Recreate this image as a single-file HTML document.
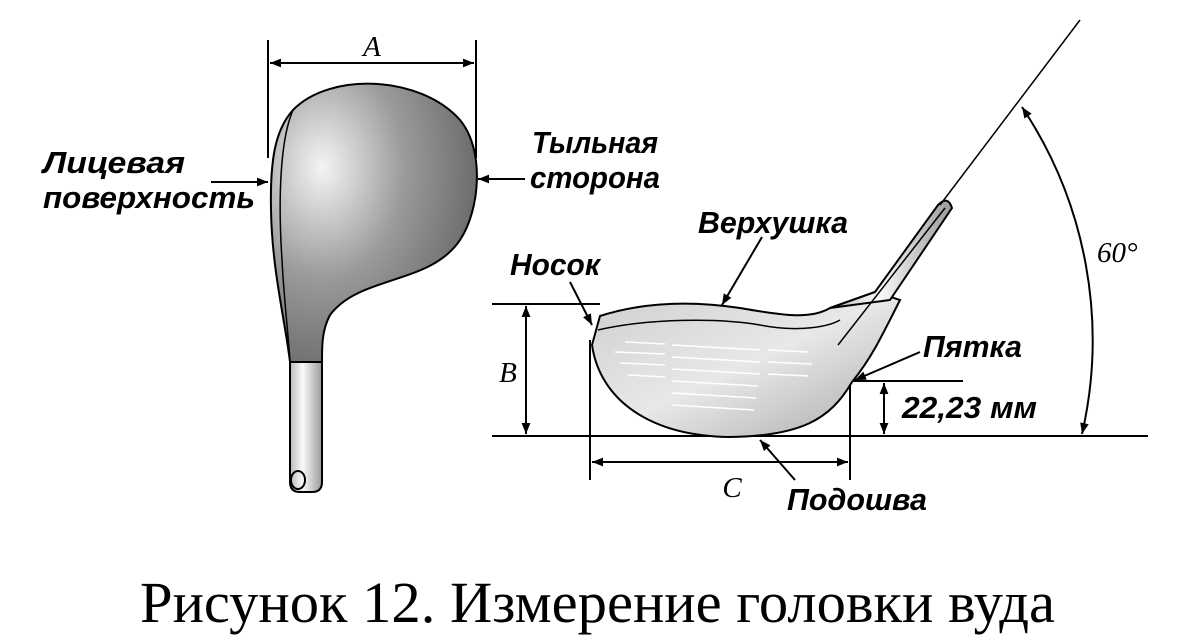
<!DOCTYPE html>
<html><head><meta charset="utf-8"><style>
html,body{margin:0;padding:0;background:#fff}
svg{display:block}
.l{font-family:"Liberation Sans",sans-serif;font-style:italic;font-weight:bold;font-size:31px;fill:#000}
.s{font-family:"Liberation Serif",serif;font-style:italic;font-size:29px}
</style></head><body>
<svg width="1194" height="641" viewBox="0 0 1194 641" xmlns="http://www.w3.org/2000/svg">
<defs>
<marker id="a" viewBox="0 0 10 10" refX="10" refY="5" markerWidth="11" markerHeight="11" orient="auto-start-reverse" markerUnits="userSpaceOnUse"><path d="M0,1 L10,5 L0,9z" fill="#000"/></marker>
<radialGradient id="g1" cx="0.25" cy="0.3" r="0.8"><stop offset="0" stop-color="#f4f4f4"/><stop offset="0.5" stop-color="#9a9a9a"/><stop offset="1" stop-color="#666"/></radialGradient>
<linearGradient id="g2" x1="0" x2="1"><stop offset="0" stop-color="#bbb"/><stop offset="0.4" stop-color="#fafafa"/><stop offset="1" stop-color="#999"/></linearGradient>
<linearGradient id="g3" x1="0" y1="0" x2="1" y2="1"><stop offset="0" stop-color="#cfcfcf"/><stop offset="0.5" stop-color="#e8e8e8"/><stop offset="1" stop-color="#a8a8a8"/></linearGradient>
</defs>
<g stroke="#000" stroke-width="2" fill="none">
<line x1="268" y1="40" x2="268" y2="158"/><line x1="476" y1="40" x2="476" y2="158"/>
<line x1="270" y1="63" x2="474" y2="63" marker-start="url(#a)" marker-end="url(#a)"/>
<path d="M293,110 C330,72 420,75 460,120 C485,150 480,210 460,240 C430,285 360,275 330,315 C322,330 322,345 322,362 L290,362 C285,320 272,270 271,210 C270,160 275,130 293,110Z" fill="url(#g1)"/>
<path d="M293,110 C280,140 278,200 282,260 C284,300 288,330 290,362" stroke-width="1.5"/>
<path d="M290,362 L290,482 Q290,492 300,492 L312,492 Q322,492 322,482 L322,362Z" fill="url(#g2)"/>
<ellipse cx="298" cy="480" rx="7" ry="9"/>
<line x1="211" y1="182" x2="268" y2="182" marker-end="url(#a)"/>
<line x1="525" y1="179" x2="478" y2="179" marker-end="url(#a)"/>
<line x1="492" y1="436" x2="1148" y2="436"/>
<line x1="492" y1="304" x2="600" y2="304"/>
<line x1="526" y1="306" x2="526" y2="434" marker-start="url(#a)" marker-end="url(#a)"/>
<line x1="590" y1="340" x2="590" y2="480"/><line x1="850" y1="382" x2="850" y2="480"/>
<line x1="592" y1="462" x2="848" y2="462" marker-start="url(#a)" marker-end="url(#a)"/>
<line x1="852" y1="381" x2="963" y2="381"/>
<line x1="884" y1="383" x2="884" y2="434" marker-start="url(#a)" marker-end="url(#a)"/>
<path d="M600,316 C650,300 700,302 740,308 C780,315 810,320 830,308 L875,292 L900,300 C880,340 870,360 852,382 C830,420 800,436 730,437 C650,436 600,400 592,345Z" fill="url(#g3)"/>
<path d="M598,330 C650,318 720,318 760,325 C800,333 830,326 840,320" stroke-width="1.5"/>
<path d="M830,308 L875,292 L938,205 Q948,195 952,208 L890,300Z" fill="url(#g2)"/>
<path d="M940,205 L1080,20" stroke-width="1.5"/>
<line x1="838" y1="345" x2="945" y2="208" stroke-width="1.5"/>
<path d="M1022,107 A420,420 0 0 1 1082,434" marker-start="url(#a)" marker-end="url(#a)"/>
<line x1="570" y1="282" x2="592" y2="325" marker-end="url(#a)"/>
<line x1="762" y1="237" x2="722" y2="305" marker-end="url(#a)"/>
<line x1="920" y1="352" x2="855" y2="380" marker-end="url(#a)"/>
<line x1="795" y1="480" x2="760" y2="440" marker-end="url(#a)"/>
</g>
<g stroke="#fff" stroke-width="1.5">
<line x1="625" y1="342" x2="665" y2="344"/><line x1="615" y1="352" x2="665" y2="354"/><line x1="620" y1="363" x2="665" y2="365"/><line x1="628" y1="375" x2="665" y2="377"/>
<line x1="672" y1="345" x2="760" y2="350"/><line x1="672" y1="357" x2="760" y2="362"/><line x1="672" y1="369" x2="760" y2="374"/><line x1="672" y1="381" x2="758" y2="386"/><line x1="672" y1="393" x2="756" y2="398"/><line x1="672" y1="405" x2="754" y2="410"/>
<line x1="768" y1="350" x2="808" y2="352"/><line x1="768" y1="362" x2="812" y2="364"/><line x1="768" y1="374" x2="808" y2="376"/>
</g>
<text class="s" x="372" y="56" text-anchor="middle">A</text>
<text class="s" x="508" y="382" text-anchor="middle">B</text>
<text class="s" x="732" y="497" text-anchor="middle">C</text>
<text class="s" x="1097" y="262">60°</text>
<text class="l" x="43" y="173" textLength="142" lengthAdjust="spacingAndGlyphs">Лицевая</text>
<text class="l" x="43" y="208" textLength="212" lengthAdjust="spacingAndGlyphs">поверхность</text>
<text class="l" x="532" y="153" textLength="126" lengthAdjust="spacingAndGlyphs">Тыльная</text>
<text class="l" x="530" y="188" textLength="130" lengthAdjust="spacingAndGlyphs">сторона</text>
<text class="l" x="510" y="275" textLength="90" lengthAdjust="spacingAndGlyphs">Носок</text>
<text class="l" x="698" y="233" textLength="150" lengthAdjust="spacingAndGlyphs">Верхушка</text>
<text class="l" x="923" y="357" textLength="99" lengthAdjust="spacingAndGlyphs">Пятка</text>
<text class="l" x="902" y="418" textLength="135" lengthAdjust="spacingAndGlyphs">22,23 мм</text>
<text class="l" x="787" y="510" textLength="140" lengthAdjust="spacingAndGlyphs">Подошва</text>
<text x="140" y="622" textLength="915" lengthAdjust="spacingAndGlyphs" style="font-family:'Liberation Serif',serif;font-size:58px">Рисунок 12. Измерение головки вуда</text>
</svg>
</body></html>
